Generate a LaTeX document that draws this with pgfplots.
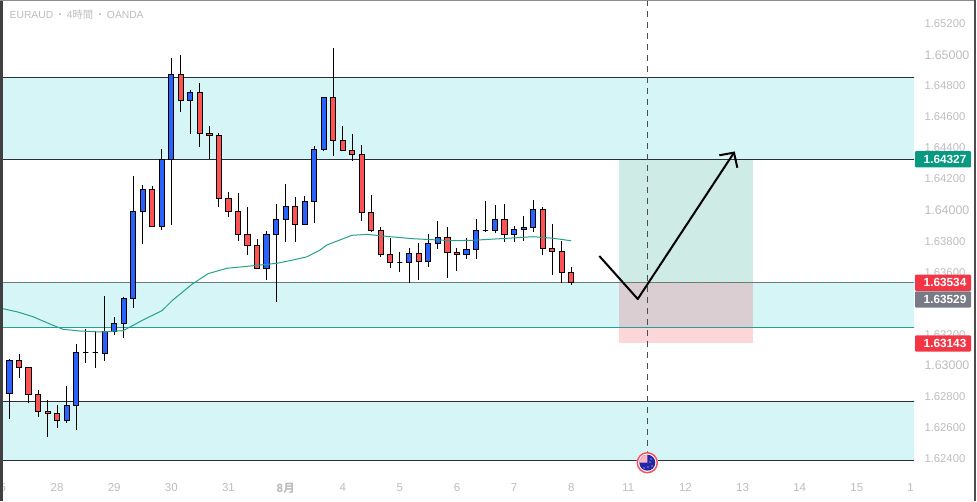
\documentclass[border=0pt]{standalone}
\usepackage{fontspec}
\usepackage{pgfplots}
\usepackage{pgfplotstable}
\pgfplotsset{compat=1.18}
\setmainfont{Liberation Sans}
\newfontfamily\cjk{Noto Sans CJK JP}
\definecolor{up}{HTML}{2962FF}
\definecolor{down}{HTML}{FF5252}
\definecolor{band}{HTML}{D6F5F7}
\definecolor{lvl}{HTML}{2A2E39}
\definecolor{ma}{HTML}{26A08F}
\definecolor{lbl}{HTML}{BDBDBD}
\definecolor{tgreen}{HTML}{089981}
\definecolor{tred}{HTML}{F23645}
\definecolor{tgray}{HTML}{787B86}
\newcommand\mj{\fontsize{12.4pt}{12.4pt}\selectfont}
\newcommand\mn{\fontsize{11.3pt}{11.3pt}\selectfont}
\pgfplotstableread{
i o h l c
0 1.62765 1.62842 1.62746 1.62823
1 1.62820 1.63042 1.62656 1.63032
2 1.63032 1.63074 1.62920 1.62988
3 1.62988 1.62990 1.62760 1.62815
4 1.62815 1.62842 1.62670 1.62705
5 1.62705 1.62778 1.62542 1.62692
6 1.62692 1.62746 1.62600 1.62647
7 1.62647 1.62868 1.62632 1.62744
8 1.62744 1.63138 1.62585 1.63085
9 1.63085 1.63233 1.63018 1.63085
10 1.63085 1.63222 1.62986 1.63085
11 1.63078 1.63447 1.63029 1.63220
12 1.63220 1.63312 1.63196 1.63272
13 1.63272 1.63441 1.63179 1.63433
14 1.63433 1.64220 1.63372 1.63993
15 1.63993 1.64162 1.63782 1.64134
16 1.64134 1.64155 1.63893 1.63893
17 1.63893 1.64394 1.63872 1.64327
18 1.64327 1.64979 1.63904 1.64874
19 1.64874 1.64999 1.64634 1.64707
20 1.64707 1.64773 1.64490 1.64759
21 1.64759 1.64817 1.64408 1.64495
22 1.64495 1.64542 1.64327 1.64482
23 1.64482 1.64495 1.64022 1.64076
24 1.64076 1.64117 1.63958 1.63993
25 1.63993 1.64110 1.63803 1.63844
26 1.63844 1.64020 1.63713 1.63774
27 1.63774 1.63814 1.63626 1.63626
28 1.63626 1.63866 1.63550 1.63844
29 1.63844 1.64040 1.63411 1.63941
30 1.63941 1.64168 1.63797 1.64025
31 1.64025 1.64085 1.63797 1.63909
32 1.63909 1.64091 1.63909 1.64057
33 1.64057 1.64411 1.63919 1.64392
34 1.64392 1.64726 1.64383 1.64726
35 1.64726 1.65042 1.64349 1.64450
36 1.64450 1.64542 1.64383 1.64385
37 1.64385 1.64490 1.64318 1.64359
38 1.64359 1.64419 1.63932 1.63986
39 1.63986 1.64097 1.63857 1.63870
40 1.63870 1.63891 1.63700 1.63716
41 1.63716 1.63821 1.63630 1.63664
42 1.63664 1.63731 1.63604 1.63664
43 1.63664 1.63754 1.63534 1.63722
44 1.63722 1.63787 1.63550 1.63671
45 1.63671 1.63844 1.63636 1.63787
46 1.63787 1.63930 1.63750 1.63825
47 1.63825 1.63891 1.63565 1.63729
48 1.63729 1.63754 1.63610 1.63716
49 1.63716 1.63819 1.63687 1.63748
50 1.63748 1.63943 1.63687 1.63870
51 1.63870 1.64059 1.63857 1.63870
52 1.63870 1.64033 1.63851 1.63941
53 1.63941 1.64040 1.63797 1.63844
54 1.63844 1.63896 1.63797 1.63877
55 1.63877 1.63962 1.63803 1.63890
56 1.63890 1.64065 1.63861 1.64005
57 1.64005 1.64018 1.63713 1.63754
58 1.63754 1.63911 1.63584 1.63735
59 1.63735 1.63799 1.63534 1.63600
60 1.63600 1.63632 1.63520 1.63534
}\candles
\begin{document}
\begin{tikzpicture}[x=1pt,y=1pt]
\path[use as bounding box] (0,0) rectangle (977,501);
\begin{axis}[
  at={(2.5pt,23pt)}, anchor=south west,
  scale only axis, width=911.5pt, height=477pt,
  xmin=0.2626, xmax=96.008, ymin=1.62276, ymax=1.65346,
  axis line style={draw=none},
  major tick length=0pt,
  ytick={1.624,1.626,1.628,1.630,1.632,1.636,1.638,1.640,1.642,1.644,1.646,1.648,1.650,1.652},
  yticklabels={{\mn 1.62400},{\mn 1.62600},{\mn 1.62800},{\mj 1.63000},{\mn 1.63200},{\mn 1.63600},{\mn 1.63800},{\mj 1.64000},{\mn 1.64200},{\mn 1.64400},{\mn 1.64600},{\mn 1.64800},{\mj 1.65000},{\mn 1.65200}},
  yticklabel pos=right,
  yticklabel style={inner sep=0pt, xshift=10.3pt, text=lbl},
  xtick={0.3,6,12,18,24,30,36,42,48,54,60,66,72,78,84,90,95.65},
  xticklabels={5,28,29,30,31,{\cjk\bfseries 8月},4,5,6,7,8,11,12,13,14,15,1},
  xticklabel style={inner sep=0pt, yshift=-5pt, text=lbl, font=\fontsize{11.5pt}{11.5pt}\selectfont},
]
% zones
\addplot[fill=band, draw=none] coordinates {(-1,1.64327)(97,1.64327)(97,1.64855)(-1,1.64855)} --cycle;
\addplot[fill=band, draw=none] coordinates {(-1,1.63246)(97,1.63246)(97,1.63534)(-1,1.63534)} --cycle;
\addplot[fill=band, draw=none] coordinates {(-1,1.62390)(97,1.62390)(97,1.62770)(-1,1.62770)} --cycle;
% position tool
\addplot[fill=tgreen, fill opacity=.2, draw=none] coordinates {(65.02,1.63534)(79.1,1.63534)(79.1,1.64327)(65.02,1.64327)} --cycle;
\addplot[fill=tred, fill opacity=.2, draw=none] coordinates {(65.02,1.63143)(79.1,1.63143)(79.1,1.63534)(65.02,1.63534)} --cycle;
% levels
\addplot[lvl, line width=1pt] coordinates {(-1,1.64855)(97,1.64855)};
\addplot[lvl, line width=1pt] coordinates {(-1,1.64327)(97,1.64327)};
\addplot[lvl, line width=1pt] coordinates {(-1,1.62770)(97,1.62770)};
\addplot[lvl, line width=1pt] coordinates {(-1,1.62390)(97,1.62390)};
\addplot[ma, line width=1pt] coordinates {(-1,1.63246)(97,1.63246)};
\addplot[ma, line width=1pt] coordinates {(-1,1.63534)(97,1.63534)};
\addplot[tred, line width=1pt, dash pattern=on 1pt off 2pt] coordinates {(-1,1.63534)(97,1.63534)};
% candles
\pgfplotsinvokeforeach{0,...,60}{
  \pgfplotstablegetelem{#1}{o}\of\candles \let\vO\pgfplotsretval
  \pgfplotstablegetelem{#1}{h}\of\candles \let\vH\pgfplotsretval
  \pgfplotstablegetelem{#1}{l}\of\candles \let\vL\pgfplotsretval
  \pgfplotstablegetelem{#1}{c}\of\candles \let\vC\pgfplotsretval
  \pgfmathsetmacro{\xa}{#1-0.27}
  \pgfmathsetmacro{\xb}{#1+0.27}
  \ifdim\vC pt<\vO pt \def\cc{down}\else \def\cc{up}\fi
  \edef\temp{%
    \noexpand\addplot[black, line width=1pt] coordinates {(#1,\vH)(#1,\vL)};
    \noexpand\addplot[fill=\cc, draw=black, line width=1pt] coordinates {(\xa,\vO)(\xb,\vO)(\xb,\vC)(\xa,\vC)} --cycle;
  }
  \temp
}
% moving average
\addplot[ma, line width=1pt] coordinates {
(0.28,1.63366)(1.89,1.63344)(3.47,1.63314)(5.25,1.63267)(6.62,1.63233)(8.40,1.63222)
(10.50,1.63216)(12.92,1.63224)(15.02,1.63293)(17.02,1.63353)(18.07,1.63417)(20.17,1.63523)
(21.85,1.63591)(23.84,1.63626)(26.26,1.63640)(29.10,1.63658)(30.78,1.63679)(32.25,1.63700)
(33.61,1.63743)(34.35,1.63776)(36.97,1.63838)(38.55,1.63844)(40.97,1.63829)(43.38,1.63816)
(47.58,1.63803)(49.68,1.63806)(52.52,1.63816)(55.99,1.63829)(58.09,1.63819)(59.98,1.63803)};
% news line
\addplot[lvl!85, line width=1pt, dash pattern=on 6pt off 5pt] coordinates {(68,1.6535)(68,1.62445)};
% hand-drawn path
\addplot[black, line width=2pt, line join=round] coordinates {(62.95,1.63705)(66.99,1.63428)(77.10,1.64370)};
\addplot[black, line width=2pt, line join=miter] coordinates {(75.56,1.64353)(77.10,1.64370)(77.45,1.64273)};
\end{axis}
% chart title
\node[anchor=west, inner sep=0pt, text=lbl, font=\fontsize{10.3pt}{10.3pt}\selectfont] at (9.5,486) {EURAUD\,{\cjk ・}\,4{\cjk 時間}\,{\cjk ・}\,OANDA};
% price tags
\foreach \yy/\cl/\tt in {341.7/tgreen/1.64327, 218.2/tred/1.63534, 201.5/tgray/1.63529, 157.5/tred/1.63143}{
  \fill[\cl, rounded corners=1pt] (915,\yy-8.2) rectangle (971,\yy+8.2);
  \node[anchor=west, inner sep=0pt, text=white, font=\bfseries\fontsize{11.8pt}{11.8pt}\selectfont] at (923.5,\yy) {\tt};
}
% event icon
\fill[white] (647.3,38.3) circle (11);
\draw[tred!85, line width=1.5pt] (647.3,38.3) circle (10);
\fill[blue!60!black!85] (647.3,38.3) circle (8);
\fill[white!65!tred] (647.3,38.3) -- (639.3,38.3) arc (180:90:8) -- cycle;
\foreach \a/\b in {651/42,652/35,644/33,648/34,650/39}{\fill[white] (\a,\b) circle (0.7);}
% window edges
\fill[black!75] (0,0) rectangle (2.5,501);
\fill[black!45] (0,500) rectangle (975.5,501);
\fill[black!70] (974,0) rectangle (975.5,501);
\end{tikzpicture}
\end{document}
